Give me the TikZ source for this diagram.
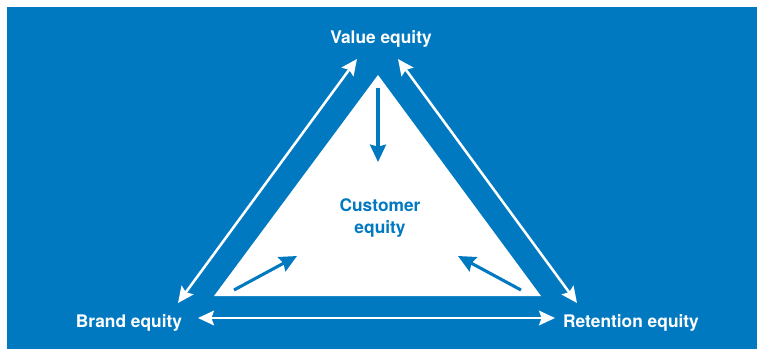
\documentclass[tikz,border=0pt]{standalone}
\usepackage{fontspec}
\setmainfont{TeX Gyre Heros}
\usepackage{tikz}
\usetikzlibrary{arrows.meta}
\definecolor{cebg}{RGB}{0,121,193}

\begin{document}
\begin{tikzpicture}[x=0.75pt, y=-0.75pt,
  font=\bfseries\fontsize{13}{16.5}\selectfont,
  label/.style={text=white, inner sep=0pt},
  link/.style={draw=white, line width=1.9pt,
    {Stealth[length=12pt, width=11pt, inset=2pt]}-{Stealth[length=12pt, width=11pt, inset=2pt]}},
  feed/.style={draw=cebg, line width=2.3pt, -{Stealth[length=13pt, width=12pt, inset=1.5pt]}}]
  \useasboundingbox (0,0) rectangle (757,349);
  \fill[cebg] (7,7) rectangle (757,349);

  % corners of the inner triangle
  \coordinate (top) at (378,75);
  \coordinate (lft) at (214,296);
  \coordinate (rgt) at (541,296);
  \fill[white] (top) -- (lft) -- (rgt) -- cycle;

  \node[label] (value) at (381,39) {Value equity};
  \node[label] (brand) at (129,323) {Brand equity};
  \node[label] (retention) at (631,323) {Retention equity};
  \node[text=cebg, align=center, inner sep=0pt] (customer) at (380,218) {Customer\\equity};

  % ends of the white connectors
  \coordinate (vb) at (357,59);
  \coordinate (vr) at (398,59);
  \coordinate (bv) at (178,303);
  \coordinate (br) at (198,318);
  \coordinate (rv) at (577,303);
  \coordinate (rb) at (555,318);
  \draw[link] (bv) -- (vb);
  \draw[link] (vr) -- (rv);
  \draw[link] (br) -- (rb);

  % blue arrows into the triangle
  \coordinate (v0) at (378,88);
  \coordinate (v1) at (378,162);
  \coordinate (b0) at (234,290);
  \coordinate (b1) at (297,256);
  \coordinate (r0) at (521,290);
  \coordinate (r1) at (458,256);
  \draw[feed] (v0) -- (v1);
  \draw[feed] (b0) -- (b1);
  \draw[feed] (r0) -- (r1);
\end{tikzpicture}
\end{document}
